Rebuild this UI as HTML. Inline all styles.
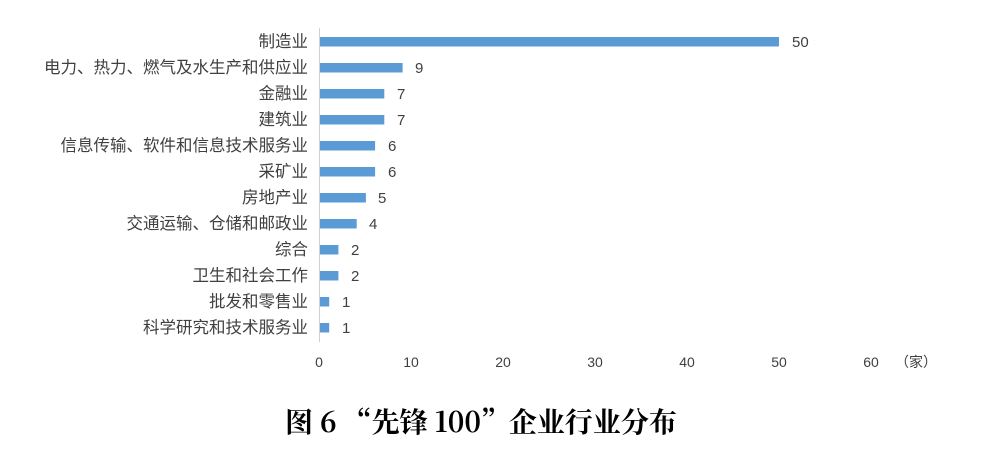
<!DOCTYPE html>
<html><head><meta charset="utf-8"><style>
body{margin:0;width:988px;height:459px;background:#fff;overflow:hidden}
svg{display:block}
text{font-family:"Liberation Sans","Noto Sans CJK SC",sans-serif;fill:#404040}
</style></head><body>
<svg width="988" height="459" viewBox="0 0 988 459">
<line x1="319.5" y1="28" x2="319.5" y2="342" stroke="#d0d0d0" stroke-width="1"/>
<g font-size="16.5" text-anchor="end" style="font-family:'Noto Sans CJK SC',sans-serif">
<text x="308" y="47">制造业</text>
<text x="308" y="73">电力、热力、燃气及水生产和供应业</text>
<text x="308" y="99">金融业</text>
<text x="308" y="125">建筑业</text>
<text x="308" y="151">信息传输、软件和信息技术服务业</text>
<text x="308" y="177">采矿业</text>
<text x="308" y="203">房地产业</text>
<text x="308" y="229">交通运输、仓储和邮政业</text>
<text x="308" y="255">综合</text>
<text x="308" y="281">卫生和社会工作</text>
<text x="308" y="307">批发和零售业</text>
<text x="308" y="333">科学研究和技术服务业</text>
</g>
<g fill="#5b9bd5">
<rect x="320" y="37" width="459" height="9.5"/>
<rect x="320" y="63" width="82.6" height="9.5"/>
<rect x="320" y="89" width="64.3" height="9.5"/>
<rect x="320" y="115" width="64.3" height="9.5"/>
<rect x="320" y="141" width="55.1" height="9.5"/>
<rect x="320" y="167" width="55.1" height="9.5"/>
<rect x="320" y="193" width="45.9" height="9.5"/>
<rect x="320" y="219" width="36.7" height="9.5"/>
<rect x="320" y="245" width="18.4" height="9.5"/>
<rect x="320" y="271" width="18.4" height="9.5"/>
<rect x="320" y="297" width="9.2" height="9.5"/>
<rect x="320" y="323" width="9.2" height="9.5"/>
</g>
<g font-size="15">
<text x="792" y="47">50</text>
<text x="415" y="73">9</text>
<text x="397" y="99">7</text>
<text x="397" y="125">7</text>
<text x="388" y="151">6</text>
<text x="388" y="177">6</text>
<text x="378" y="203">5</text>
<text x="369" y="229">4</text>
<text x="351" y="255">2</text>
<text x="351" y="281">2</text>
<text x="342" y="307">1</text>
<text x="342" y="333">1</text>
</g>
<g font-size="14" text-anchor="middle" fill="#595959">
<text x="319" y="367">0</text>
<text x="411" y="367">10</text>
<text x="503" y="367">20</text>
<text x="595" y="367">30</text>
<text x="687" y="367">40</text>
<text x="779" y="367">50</text>
<text x="871" y="367">60</text>
<text x="916" y="367">（家）</text>
</g>
<text x="481" y="432" text-anchor="middle" font-size="28" font-weight="bold" style="font-family:'Noto Serif CJK SC',serif;fill:#000">图 6 “先锋 100”企业行业分布</text>
</svg>
</body></html>
